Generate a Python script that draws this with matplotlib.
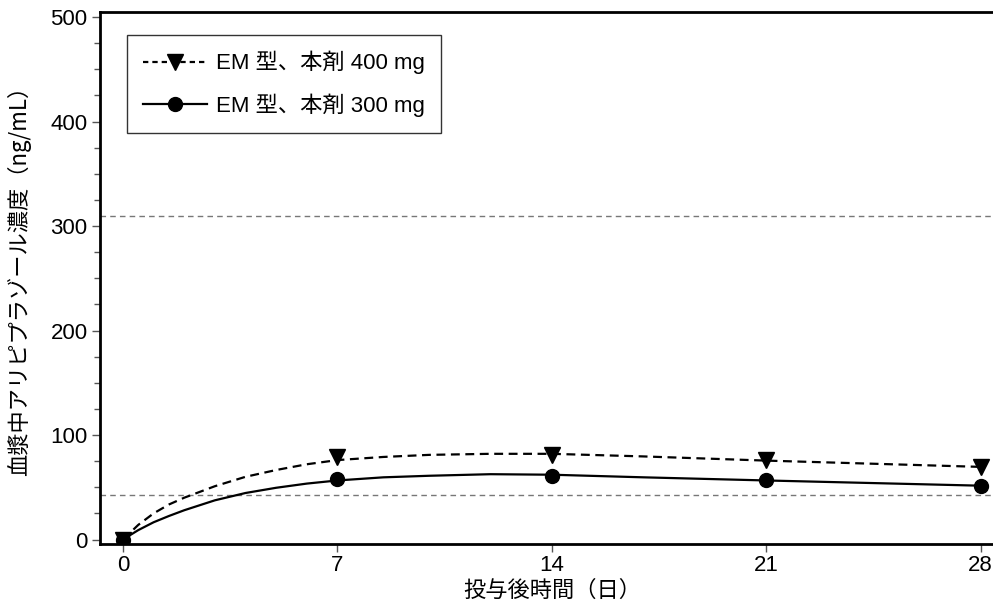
import matplotlib
matplotlib.use("Agg")
import matplotlib.pyplot as plt
from matplotlib.lines import Line2D
from matplotlib.ticker import MultipleLocator

plt.rcParams['font.family'] = ['Liberation Sans', 'Noto Sans CJK JP', 'DejaVu Sans']

# observed points
days = [0, 7, 14, 21, 28]
obs_400 = [0, 79, 81, 76, 69]
obs_300 = [0, 57.5, 61, 56.5, 51.5]

# fitted curves
curve_days = [0, 0.25, 0.5, 1, 1.5, 2, 3, 4, 5, 6, 7, 8.5, 10, 12, 14, 17, 21, 24.5, 28]
curve_400 = [0, 7, 14, 25, 33.5, 40, 51, 60, 66.5, 72, 76, 79, 81, 82, 82, 79.5, 75.5, 72.5, 69.5]
curve_300 = [0, 4.5, 9, 16.5, 22.5, 28, 37.5, 44.5, 49.5, 53.5, 56.5, 59.5, 61, 62.5, 62, 59.5, 56.5, 54, 51.5]

ref_lines = [310, 43]

labels = ["EM 型、本剤 400 mg", "EM 型、本剤 300 mg"]
xlabel = "投与後時間（日）"
ylabel = "血漿中アリピプラゾール濃度（ng/mL）"

fig = plt.figure(figsize=(9.93, 6.12), dpi=100)
ax = fig.add_axes([100/993, 1 - 544/612, 905/993, 532/612])

for r in ref_lines:
    ax.axhline(r, color='#777777', lw=1.0, dashes=(4, 3), zorder=1)

ax.plot(curve_days, curve_400, color='black', lw=1.6, dashes=(4, 2.5), zorder=3)
ax.plot(curve_days, curve_300, color='black', lw=1.6, zorder=3)
ax.plot(days, obs_400, linestyle='none', marker='v', ms=11.5, color='black', zorder=4)
ax.plot(days, obs_300, linestyle='none', marker='o', ms=10, color='black', zorder=4)

ax.set_xlim(-0.75, -0.75 + 905/30.63)
ax.set_ylim(-4.3, 504.8)
ax.set_xticks([0, 7, 14, 21, 28])
ax.yaxis.set_major_locator(MultipleLocator(100))
ax.yaxis.set_minor_locator(MultipleLocator(25))

for s in ['left', 'bottom', 'top']:
    ax.spines[s].set_linewidth(2.0)
ax.spines['right'].set_visible(False)

ax.tick_params(axis='both', which='major', length=6, width=1, color='#555555', labelsize=16, pad=3)
ax.tick_params(axis='x', which='major', pad=2)
ax.tick_params(axis='y', which='minor', length=4, width=1, color='#555555')
ax.tick_params(axis='x', which='minor', length=0)

ax.set_xlabel(xlabel, fontsize=16, family=['Noto Sans CJK JP', 'DejaVu Sans'])
ax.xaxis.set_label_coords(0.5, -35/532)
ax.set_ylabel(ylabel, fontsize=16, family=['Noto Sans CJK JP', 'DejaVu Sans'])
ax.yaxis.set_label_coords(-69/905, 0.505)

handles = [
    Line2D([], [], color='black', lw=1.6, dashes=(2.4, 1.8), marker='v', ms=11.5),
    Line2D([], [], color='black', lw=1.6, marker='o', ms=10),
]
leg = ax.legend(handles, labels, loc='upper left', bbox_to_anchor=(27/905, 1 - 23/532),
                borderaxespad=0, frameon=True, fancybox=False,
                handlelength=2.9, labelspacing=0.85, borderpad=0.72, handletextpad=0.4,
                prop={'family': ['Liberation Sans', 'Noto Sans CJK JP', 'DejaVu Sans'], 'size': 16})
leg.get_frame().set_edgecolor('black')
leg.get_frame().set_linewidth(1.0)

fig.savefig("out.png", dpi=100)
